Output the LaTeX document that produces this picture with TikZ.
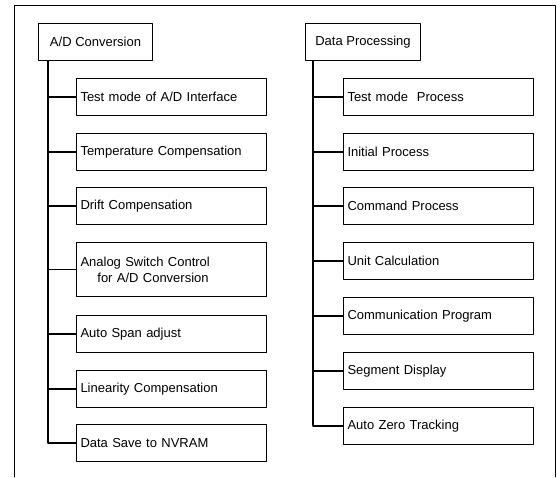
\documentclass[tikz,border=0pt]{standalone}
\usepackage{fontspec}
\setmainfont{Liberation Sans}
\begin{document}
\begin{tikzpicture}[x=1pt,y=1pt,line cap=round,line join=round,font=\fontsize{13}{16}\selectfont,
	headbox/.style={draw,line width=1pt,anchor=north west,minimum height=37pt,inner xsep=6pt,align=left},
	leafbox/.style={draw,line width=1pt,anchor=north west,text width=182pt,inner xsep=4pt,minimum height=37pt,align=left},
	trunk/.style={line width=1.3pt}]
	\useasboundingbox (0,0) rectangle (557,-477);
	\draw[line width=0.8pt] (14,-477) -- (14,-5) -- (555,-5) -- (555,-477);
	% left column
	\node[headbox,minimum width=114pt] (ad) at (38,-23) {A/D Conversion};
	\node[leafbox] (adtest) at (76,-78) {Test mode of A/D Interface};
	\node[leafbox] (temp) at (76,-133) {Temperature Compensation};
	\node[leafbox] (drift) at (76,-187) {Drift Compensation};
	\node[leafbox,minimum height=54pt] (analog) at (76,-242) {Analog Switch Control\\\hspace*{1.3em}for A/D Conversion};
	\node[leafbox] (span) at (76,-315) {Auto Span adjust};
	\node[leafbox] (lin) at (76,-370) {Linearity Compensation};
	\node[leafbox] (nvram) at (76,-424) {Data Save to NVRAM};
	% right column
	\node[headbox,minimum width=115pt] (dp) at (305,-23) {Data Processing};
	\node[leafbox] (dptest) at (343,-78) {Test mode\ \ Process};
	\node[leafbox] (init) at (343,-133) {Initial Process};
	\node[leafbox] (cmd) at (343,-187) {Command Process};
	\node[leafbox] (unit) at (343,-242) {Unit Calculation};
	\node[leafbox] (comm) at (343,-297) {Communication Program};
	\node[leafbox] (seg) at (343,-352) {Segment Display};
	\node[leafbox] (azt) at (343,-407) {Auto Zero Tracking};
	% trunks
	\coordinate (adtrunk) at ([xshift=10pt]ad.south west);
	\coordinate (dptrunk) at ([xshift=8pt]dp.south west);
	\draw[trunk] (adtrunk) |- (nvram.west);
	\draw[trunk] (dptrunk) |- (azt.west);
	\foreach \n in {adtest,temp,drift,analog,span,lin}
		\draw[trunk] (adtrunk |- \n.west) -- (\n.west);
	\foreach \n in {dptest,init,cmd,unit,comm,seg}
		\draw[trunk] (dptrunk |- \n.west) -- (\n.west);
\end{tikzpicture}
\end{document}
